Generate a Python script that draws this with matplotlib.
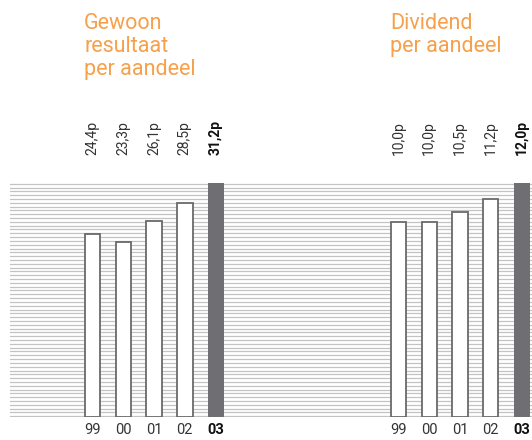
import numpy as np
import matplotlib
matplotlib.use("Agg")
import matplotlib.pyplot as plt

years = ["99", "00", "01", "02", "03"]
eps = [24.4, 23.3, 26.1, 28.5, 31.2]
eps_labels = ["24,4p", "23,3p", "26,1p", "28,5p", "31,2p"]
div = [10.0, 10.0, 10.5, 11.2, 12.0]
div_labels = ["10,0p", "10,0p", "10,5p", "11,2p", "12,0p"]

orange = "#f7a04b"
dark = "#6e6e73"
edge = "#6a6a6a"
font = "Roboto"

W, H = 532, 440
fig = plt.figure(figsize=(W / 100, H / 100), dpi=100)

# striped background behind both panels
bot = (H - 417) / H
hgt = 234 / H
bg = fig.add_axes([10 / W, bot, (W - 10) / W, hgt])
for y in np.linspace(0, 1, 62):
    bg.axhline(y, color="#c3c3c3", lw=0.9)
bg.set_xlim(0, 1)
bg.set_ylim(-0.003, 1.003)
bg.axis("off")


def panel(left, vals, labels, title, title_x):
    ax = fig.add_axes([left / W, bot, 154 / W, hgt])
    x = np.arange(len(vals))
    ax.bar(x[:-1], vals[:-1], width=0.5, color="white", edgecolor=edge, lw=1.3)
    ax.bar(x[-1], vals[-1], width=0.52, color=dark, edgecolor="none")
    ax.set_xlim(-0.5, 4.5)
    ax.set_ylim(0, max(vals))
    ax.axis("off")
    for i, (xi, lab) in enumerate(zip(x, labels)):
        last = i == len(x) - 1
        ax.annotate(lab, (xi, 1), xycoords=("data", "axes fraction"),
                    xytext=(0, 20), textcoords="offset points",
                    rotation=90, ha="center", va="bottom", fontsize=10,
                    family=font, color="#111111" if last else "#333333",
                    weight="bold" if last else "normal")
        ax.annotate(years[i], (xi, 0), xycoords=("data", "axes fraction"),
                    xytext=(0, -4), textcoords="offset points",
                    ha="center", va="top", fontsize=10.5, family=font,
                    color="#111111" if last else "#333333",
                    weight="bold" if last else "normal")
    fig.text(title_x / W, 1 - 13 / H, title, ha="left", va="top",
             fontsize=15.5, family=font, color=orange, linespacing=1.12)
    return ax


panel(77, eps, eps_labels, "Gewoon\nresultaat\nper aandeel", 84)
panel(383, div, div_labels, "Dividend\nper aandeel", 390)

fig.savefig("out.png", dpi=100, facecolor="white")
